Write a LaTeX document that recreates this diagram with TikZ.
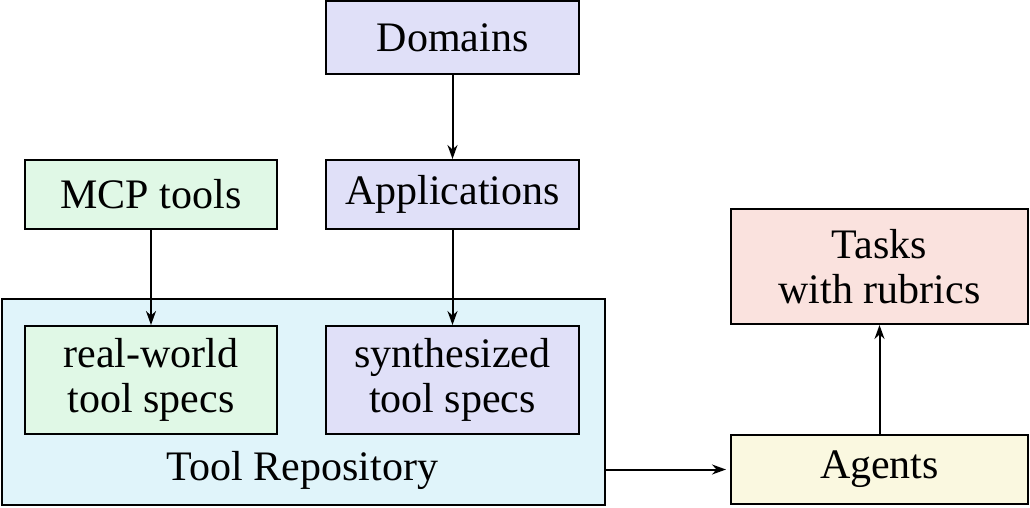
\documentclass[tikz,border=0pt]{standalone}
\usepackage{fontspec}
\setmainfont{Liberation Serif}
\usetikzlibrary{arrows.meta}
\definecolor{lav}{HTML}{E0E0F8}
\definecolor{grn}{HTML}{E0F8E6}
\definecolor{cyanbg}{HTML}{E0F4FA}
\definecolor{pink}{HTML}{FAE2DE}
\definecolor{yel}{HTML}{FAF8E0}
\begin{document}
\begin{tikzpicture}[x=1pt,y=-1pt,
  box/.style={draw,line width=2pt,align=center,inner sep=0pt,font=\fontsize{42}{45}\selectfont},
  arr/.style={-{Stealth[length=14pt,width=10pt]},line width=2pt}]
\useasboundingbox (0,0) rectangle (1030,507);
\node[box,fill=cyanbg,minimum width=603pt,minimum height=206pt,anchor=north west] (repo) at (1,298) {};
\node[font=\fontsize{42}{45}\selectfont] (repolabel) at (302.5,470) {Tool Repository};
\node[box,fill=lav,minimum width=253pt,minimum height=73pt] (dom) at (452.5,37.5) {Domains};
\node[box,fill=lav,minimum width=253pt,minimum height=69pt] (app) at (452.5,194.5) {Applications};
\node[box,fill=grn,minimum width=252pt,minimum height=69pt] (mcp) at (151,194.5) {MCP tools};
\node[box,fill=grn,minimum width=252pt,minimum height=108pt] (real) at (151,380) {real-world\\tool specs};
\node[box,fill=lav,minimum width=253pt,minimum height=108pt] (syn) at (452.5,380) {synthesized\\tool specs};
\node[box,fill=pink,minimum width=297pt,minimum height=115pt] (tasks) at (879.5,266.5) {Tasks\\with rubrics};
\node[box,fill=yel,minimum width=297pt,minimum height=69pt] (ag) at (879.5,469.5) {Agents};
\draw[arr] (dom) -- (app);
\draw[arr] (app) -- (syn);
\draw[arr] (mcp) -- (real);
\draw[arr] (repo.east |- ag.west) -- ([xshift=-4pt]ag.west);
\draw[arr] (ag) -- (tasks);
\end{tikzpicture}
\end{document}
